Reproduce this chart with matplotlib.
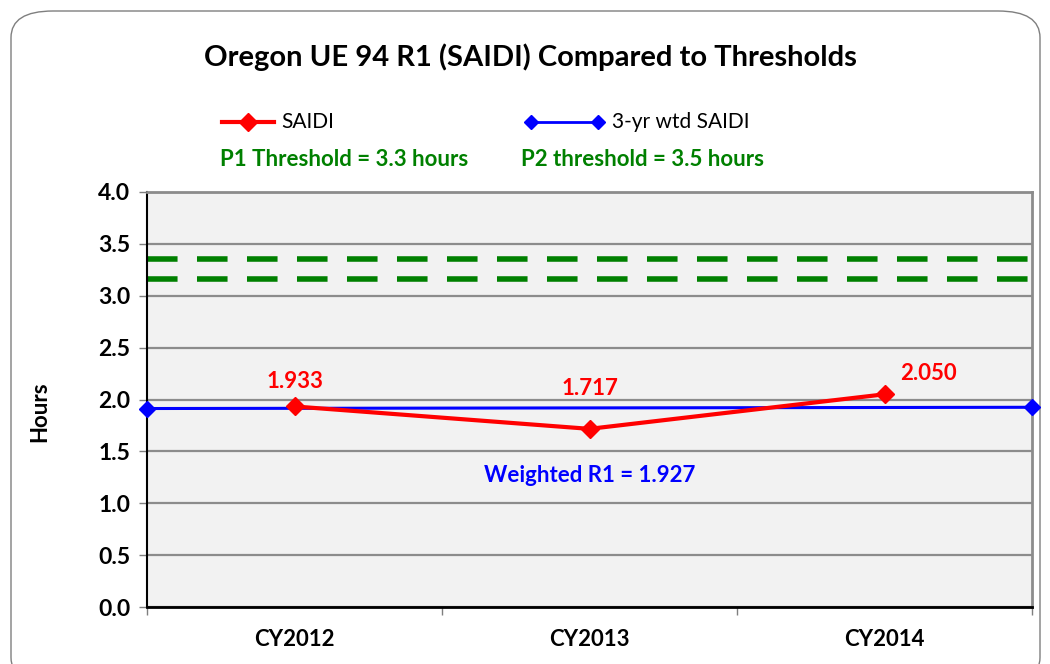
import matplotlib
matplotlib.use("Agg")
import matplotlib.pyplot as plt
from matplotlib.patches import FancyBboxPatch
from matplotlib.lines import Line2D

# data
years = ["CY2012", "CY2013", "CY2014"]
saidi = [1.933, 1.717, 2.050]
saidi_labels = ["1.933", "1.717", "2.050"]
wtd_x = [-0.5, 2.5]
wtd_saidi = [1.913, 1.925]
p1_line = 3.164
p2_line = 3.355
yticks = [0.0, 0.5, 1.0, 1.5, 2.0, 2.5, 3.0, 3.5, 4.0]

plt.rcParams['font.family'] = ['Lato', 'DejaVu Sans']

W, H = 1050, 664
fig = plt.figure(figsize=(W / 100, H / 100), dpi=100)

# rounded chart border
border = FancyBboxPatch((11 / W, -20 / H), 1029 / W, (H - 11 + 20) / H,
                        boxstyle="round,pad=0,rounding_size=0.04",
                        transform=fig.transFigure, facecolor="white",
                        edgecolor="#7f7f7f", linewidth=1.0, zorder=-5)
fig.patches.append(border)

ax = fig.add_axes([147 / W, 1 - 607 / H, 885 / W, 415 / H])
ax.set_facecolor("#F2F2F2")
ax.set_xlim(-0.5, 2.5)
ax.set_ylim(0, 4.0)

ax.set_yticks(yticks)
ax.set_yticklabels(["%.1f" % v for v in yticks], fontsize=16.5, fontweight="bold")
ax.yaxis.grid(True, color="#8c8c8c", linewidth=1.6)
ax.set_axisbelow(True)
ax.tick_params(axis="y", length=6, width=1, color="#7f7f7f", pad=6)

ax.set_xticks(range(len(years)))
ax.set_xticklabels(years, fontsize=16, fontweight="bold")
ax.set_xticks([-0.5, 0.5, 1.5, 2.5], minor=True)
ax.tick_params(axis="x", which="major", length=0, pad=16)
ax.tick_params(axis="x", which="minor", length=6, width=1, color="#7f7f7f")

for s in ["top", "right"]:
    ax.spines[s].set_color("#8c8c8c")
    ax.spines[s].set_linewidth(2)
ax.spines["left"].set_color("black")
ax.spines["bottom"].set_color("black")
ax.spines["left"].set_linewidth(1.5)
ax.spines["bottom"].set_linewidth(2)

ax.set_ylabel("Hours", fontsize=16, fontweight="bold")
ax.yaxis.set_label_coords(-(147 - 50) / 885, 0.47)

# thresholds
ax.axhline(p2_line, color="#008000", linewidth=4, dashes=(5.5, 3.5), zorder=2)
ax.axhline(p1_line, color="#008000", linewidth=4, dashes=(5.5, 3.5), zorder=2)

ax.plot(wtd_x, wtd_saidi, color="blue", linewidth=2.2, marker="D",
        markersize=8, clip_on=False, zorder=4)
ax.plot(range(len(years)), saidi, color="red", linewidth=3, marker="D",
        markersize=9, zorder=5)

label_off = [(0, 0.24), (0, 0.39), (0.15, 0.2)]
for i, (v, t) in enumerate(zip(saidi, saidi_labels)):
    dx, dy = label_off[i]
    ax.text(i + dx, v + dy, t, color="red", fontsize=16, fontweight="bold",
            ha="center", va="center")

ax.text(1.0, 1.27, "Weighted R1 = 1.927", color="blue", fontsize=16,
        fontweight="bold", ha="center", va="center")

fig.text(530 / W, 1 - 57 / H, "Oregon UE 94 R1 (SAIDI) Compared to Thresholds",
         fontsize=21, fontweight="bold", ha="center", va="center")

# legend drawn by hand at figure coords
ly = 1 - 122 / H
fig.lines.extend([
    Line2D([222 / W, 274 / W], [ly, ly], color="red", linewidth=3,
           transform=fig.transFigure),
    Line2D([248 / W], [ly], color="red", marker="D", markersize=9,
           transform=fig.transFigure),
    Line2D([531 / W, 598 / W], [ly, ly], color="blue", linewidth=2,
           marker="D", markersize=7, transform=fig.transFigure),
])
fig.text(281 / W, ly, "SAIDI", fontsize=15, ha="left", va="center")
fig.text(612 / W, ly, "3-yr wtd SAIDI", fontsize=15, ha="left", va="center")

fig.text(220 / W, 1 - 159 / H, "P1 Threshold = 3.3 hours", color="#008000",
         fontsize=16, fontweight="bold", ha="left", va="center")
fig.text(521 / W, 1 - 159 / H, "P2 threshold = 3.5 hours", color="#008000",
         fontsize=16, fontweight="bold", ha="left", va="center")

fig.savefig("out.png", dpi=100)
